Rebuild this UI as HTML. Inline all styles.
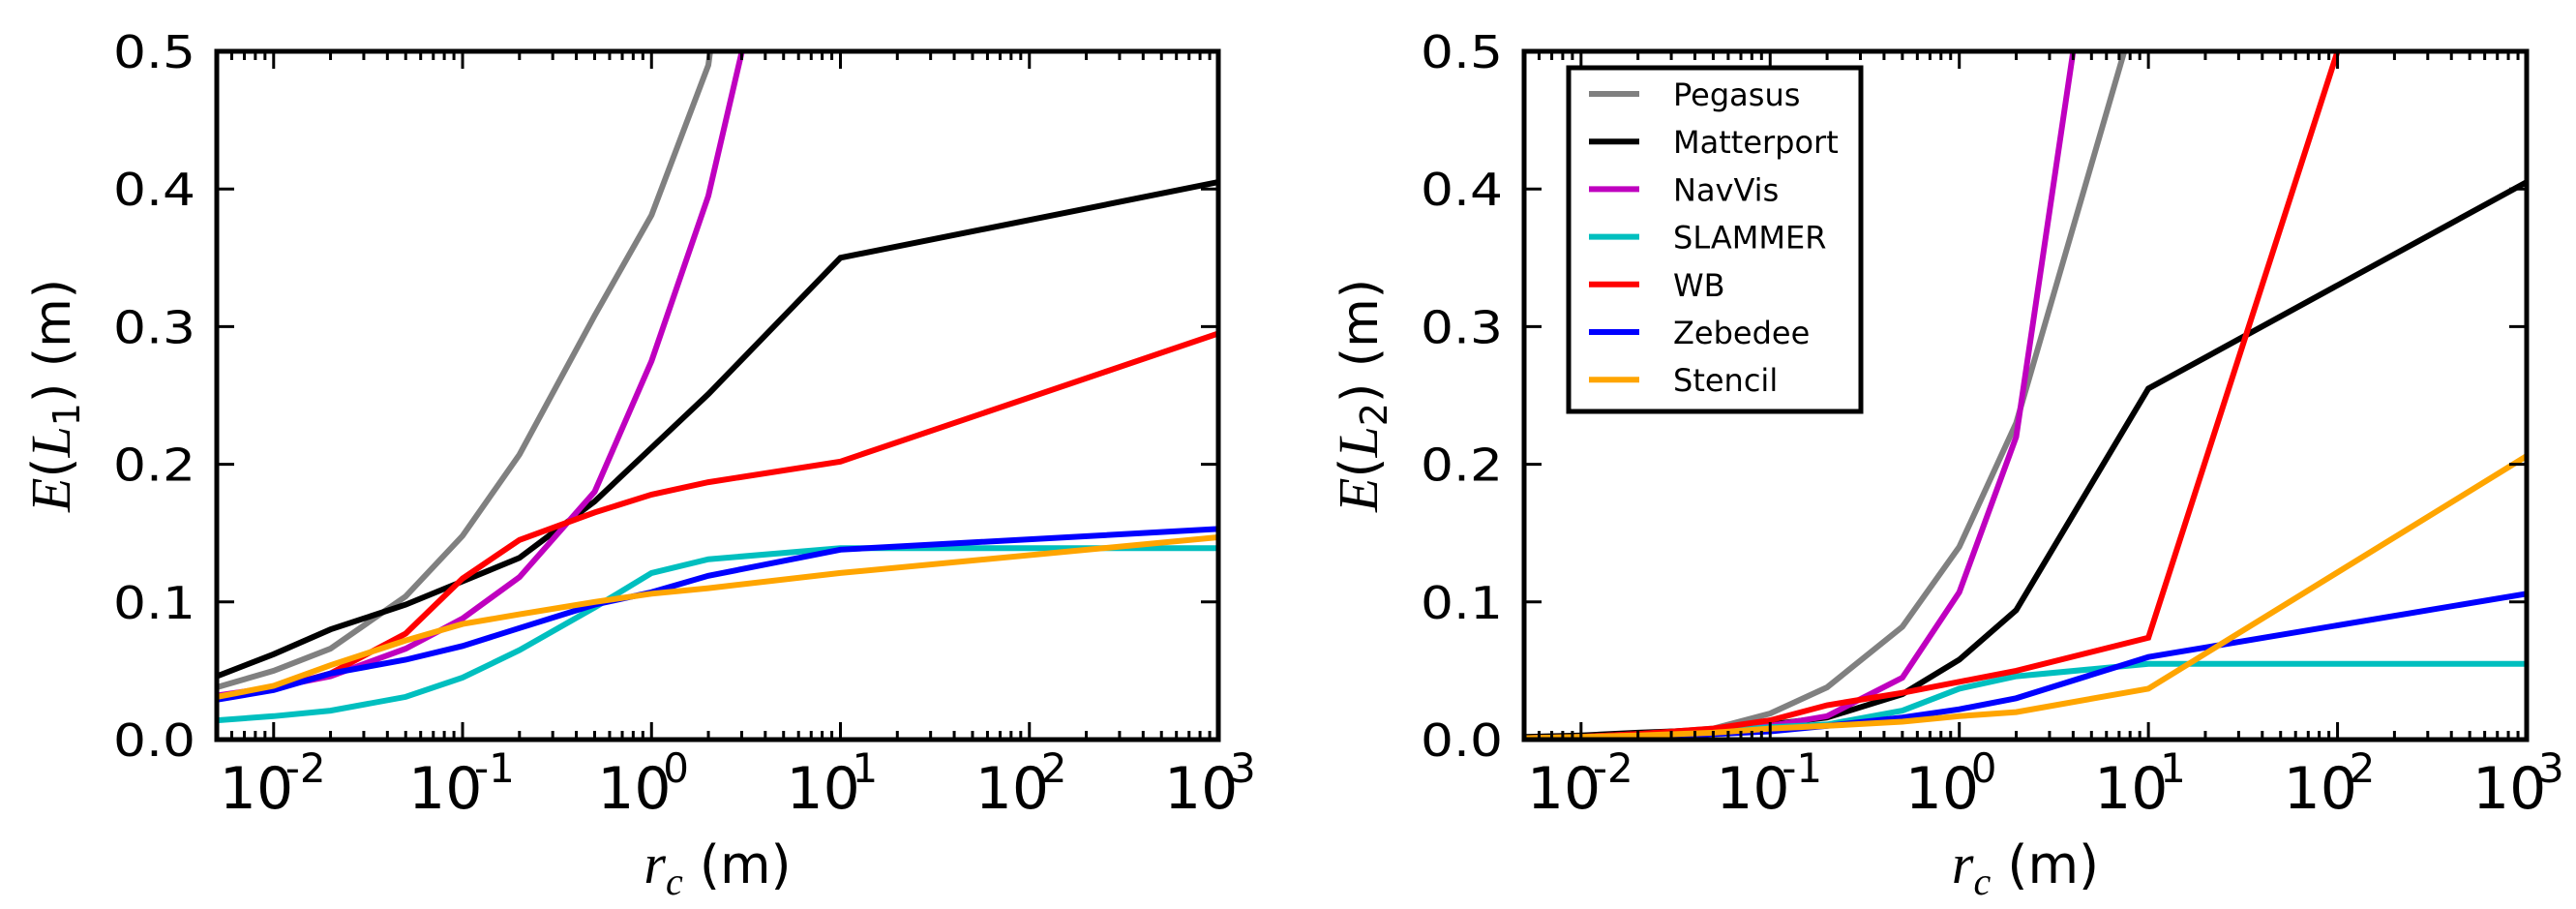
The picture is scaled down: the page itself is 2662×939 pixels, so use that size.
<!DOCTYPE html>
<html><head><meta charset="utf-8">
<style>
html,body{margin:0;padding:0;background:#fff;}
svg{display:block;}
text{font-family:"DejaVu Sans","Liberation Sans",sans-serif;fill:#000;}
.mi{font-family:"Liberation Serif","DejaVu Serif",serif;font-style:italic;}
</style></head>
<body>
<svg id="fig" width="2662" height="939" viewBox="0 0 2662 939" xmlns="http://www.w3.org/2000/svg"></svg>
<script>
const seriesNames = ["Pegasus","Matterport","NavVis","SLAMMER","WB","Zebedee","Stencil"];
const seriesColors = ["#808080","#000000","#bf00bf","#00bfbf","#ff0000","#0000ff","#ffa500"];
const yTicks = [0.0,0.1,0.2,0.3,0.4,0.5];
const yTickLabels = ["0.0","0.1","0.2","0.3","0.4","0.5"];
const xTickExps = [-2,-1,0,1,2,3];
const xStd = [0.005,0.01,0.02,0.05,0.1,0.2,0.5,1,2,10,1000];
// Left panel (L1)
const l1PegasusX = [0.005,0.01,0.02,0.05,0.1,0.2,0.5,1,2,10];
const l1Pegasus = [0.038,0.05,0.066,0.104,0.148,0.207,0.308,0.381,0.49,1.2];
const l1Matterport = [0.046,0.062,0.080,0.098,0.115,0.132,0.173,0.212,0.251,0.350,0.405];
const l1NavVisX = [0.005,0.01,0.02,0.05,0.1,0.2,0.5,1,2,5];
const l1NavVis = [0.032,0.038,0.046,0.066,0.088,0.118,0.18,0.275,0.395,0.63];
const l1Slammer = [0.014,0.017,0.021,0.031,0.045,0.065,0.096,0.121,0.131,0.139,0.139];
const l1WB = [0.031,0.037,0.048,0.077,0.117,0.145,0.165,0.178,0.187,0.202,0.295];
const l1Zebedee = [0.029,0.036,0.048,0.058,0.068,0.081,0.098,0.107,0.119,0.138,0.153];
const l1Stencil = [0.031,0.039,0.054,0.072,0.084,0.091,0.100,0.106,0.110,0.121,0.147];
// Right panel (L2)
const l2PegasusX = [0.005,0.01,0.02,0.05,0.1,0.2,0.5,1,2,10];
const l2Pegasus = [0.001,0.002,0.004,0.008,0.019,0.038,0.082,0.14,0.23,0.56];
const l2Matterport = [0.002,0.003,0.005,0.007,0.011,0.016,0.033,0.058,0.094,0.255,0.405];
const l2NavVisX = [0.005,0.01,0.02,0.05,0.1,0.2,0.5,1,2,5];
const l2NavVis = [0.001,0.002,0.004,0.007,0.010,0.017,0.045,0.107,0.22,0.59];
const l2Slammer = [0.001,0.002,0.003,0.006,0.009,0.011,0.021,0.037,0.046,0.055,0.055];
const l2WBX = [0.005,0.01,0.02,0.05,0.1,0.2,0.5,1,2,10,100];
const l2WB = [0.001,0.002,0.004,0.008,0.014,0.025,0.034,0.042,0.05,0.074,0.5];
const l2Zebedee = [0.001,0.001,0.002,0.004,0.006,0.010,0.016,0.022,0.030,0.060,0.106];
const l2Stencil = [0.001,0.002,0.003,0.005,0.008,0.010,0.013,0.017,0.020,0.037,0.206];

const NS="http://www.w3.org/2000/svg";
const svg=document.getElementById('fig');
function mk(tag,attrs,parent){const e=document.createElementNS(NS,tag);for(const k in attrs)e.setAttribute(k,attrs[k]);(parent||svg).appendChild(e);return e;}

const XMIN=Math.log10(0.005), XMAX=3;
function panel(id,x0,x1,y0,y1,series,ylabelSub){
  const g=mk('g',{});
  
  
  const sx=v=>x0+(Math.log10(v)-XMIN)/(XMAX-XMIN)*(x1-x0);
  const sy=v=>y1-(v/0.5)*(y1-y0);
  const cp=mk('clipPath',{id:'clip-'+id},g);
  mk('rect',{x:x0,y:y0,width:x1-x0,height:y1-y0},cp);
  const lines=mk('g',{'clip-path':'url(#clip-'+id+')'},g);
  series.forEach((s,i)=>{
    const pts=s.x.map((xv,j)=>sx(xv).toFixed(1)+','+sy(s.y[j]).toFixed(1)).join(' ');
    const pl=mk('polyline',{points:pts,fill:'none',stroke:seriesColors[i],'stroke-width':6,'stroke-linejoin':'miter'},lines);
    
    
  });
  const tk=mk('g',{stroke:'#000'},g);
  for(let e=-3;e<3;e++){for(let m=1;m<10;m++){const v=m*Math.pow(10,e);const lv=Math.log10(v);
    if(lv<XMIN-1e-9||lv>XMAX+1e-9)continue;const X=sx(v);const L=(m===1)?18:9;
    mk('line',{x1:X,x2:X,y1:y1,y2:y1-L,'stroke-width':3},tk);
    mk('line',{x1:X,x2:X,y1:y0,y2:y0+L,'stroke-width':3},tk);}}
  mk('line',{x1:x1,x2:x1,y1:y1,y2:y1-18,'stroke-width':3},tk);
  mk('line',{x1:x1,x2:x1,y1:y0,y2:y0+18,'stroke-width':3},tk);
  yTicks.forEach((v,i)=>{const Y=sy(v);
    mk('line',{x1:x0,x2:x0+18,y1:Y,y2:Y,'stroke-width':3},tk);
    mk('line',{x1:x1,x2:x1-18,y1:Y,y2:Y,'stroke-width':3},tk);
    const t=mk('text',{x:x0-22,y:Y+17,'text-anchor':'end','font-size':46,textLength:85,lengthAdjust:'spacingAndGlyphs'},g);
    t.textContent=yTickLabels[i];
    
    
  });
  xTickExps.forEach(ex=>{const X=sx(Math.pow(10,ex));
    const t=mk('text',{x:X-56,y:835,'font-size':60},g);
    t.textContent='10';
    
    
    const s=mk('text',{x:X+12,y:808,'font-size':42},g);
    s.textContent=(ex<0?'-':'')+Math.abs(ex);
    
    
  });
  const frame=mk('rect',{x:x0,y:y0,width:x1-x0,height:y1-y0,fill:'none',stroke:'#000','stroke-width':5},g);
  
  
  const xl=mk('text',{x:(x0+x1)/2,y:912,'text-anchor':'middle','font-size':54},g);
  
  
  xl.innerHTML='<tspan class="mi" font-size="58">r</tspan><tspan class="mi" font-size="40" dy="12">c</tspan><tspan dy="-12"> (m)</tspan>';
  const yc=(y0+y1)/2;
  const yl=mk('text',{x:0,y:0,'text-anchor':'middle','font-size':52,transform:'translate('+(x0-152)+','+yc+') rotate(-90)'},g);
  
  
  yl.innerHTML='<tspan class="mi" font-size="58">E</tspan><tspan font-size="54">(</tspan><tspan class="mi" font-size="58">L</tspan><tspan font-size="38" dy="10">'+ylabelSub+'</tspan><tspan dy="-10">) (m)</tspan>';
  return g;
}

panel('left',224,1259,53,764,[
  {x:l1PegasusX,y:l1Pegasus},{x:xStd,y:l1Matterport},{x:l1NavVisX,y:l1NavVis},
  {x:xStd,y:l1Slammer},{x:xStd,y:l1WB},{x:xStd,y:l1Zebedee},{x:xStd,y:l1Stencil}],'1');
panel('right',1575,2611,53,764,[
  {x:l2PegasusX,y:l2Pegasus},{x:xStd,y:l2Matterport},{x:l2NavVisX,y:l2NavVis},
  {x:xStd,y:l2Slammer},{x:l2WBX,y:l2WB},{x:xStd,y:l2Zebedee},{x:xStd,y:l2Stencil}],'2');

const lg=mk('g',{});


mk('rect',{x:1621,y:70,width:302,height:355,fill:'#fff',stroke:'#000','stroke-width':5},lg);
seriesNames.forEach((n,i)=>{const Y=97+i*49.2;
  const e=mk('g',{},lg);
  
  
  mk('line',{x1:1642,x2:1694,y1:Y,y2:Y,stroke:seriesColors[i],'stroke-width':6},e);
  const t=mk('text',{x:1729,y:Y+12,'font-size':32},e);t.textContent=n;
});
</script>
</body></html>
